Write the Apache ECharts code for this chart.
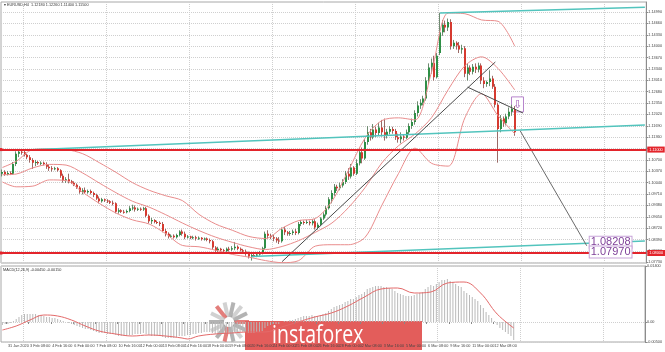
<!DOCTYPE html>
<html lang="en">
<head>
<meta charset="UTF-8">
<title>EURUSD H4</title>
<script src="https://cdn.jsdelivr.net/npm/echarts@6/dist/echarts.min.js"></script>
<style>
  html, body { margin: 0; padding: 0; background: #fff; }
  #chart { width: 665px; height: 352px; }
</style>
</head>
<body>
<div id="chart"></div>
<script>
// H4 bars, 30 Jan 2020 16:00 .. 13 Mar 2020 12:00 : [open, close, low, high]
const ohlc = [
  [1.1030,1.1035,1.1022,1.1042],[1.1035,1.1028,1.1024,1.1040],[1.1028,1.1032,1.1025,1.1038],[1.1032,1.1030,1.1026,1.1037],
  [1.1030,1.1058,1.1027,1.1064],[1.1058,1.1088,1.1052,1.1095],[1.1088,1.1094,1.1078,1.1098],[1.1094,1.1092,1.1085,1.1097],
  [1.1092,1.1085,1.1080,1.1096],[1.1085,1.1078,1.1072,1.1088],[1.1078,1.1070,1.1062,1.1084],[1.1070,1.1062,1.1044,1.1075],
  [1.1062,1.1064,1.1052,1.1070],[1.1064,1.1060,1.1056,1.1067],[1.1060,1.1062,1.1055,1.1066],[1.1062,1.1058,1.1054,1.1065],
  [1.1058,1.1050,1.1044,1.1063],[1.1050,1.1046,1.1038,1.1056],[1.1046,1.1044,1.1036,1.1052],[1.1044,1.1046,1.1040,1.1050],
  [1.1046,1.1040,1.1036,1.1049],[1.1040,1.1024,1.1018,1.1043],[1.1024,1.1010,1.1004,1.1030],[1.1010,1.1014,1.1003,1.1020],
  [1.1014,1.1008,1.1002,1.1030],[1.1008,1.1004,1.1000,1.1012],[1.1004,1.0998,1.0994,1.1008],[1.0998,1.0990,1.0986,1.1002],
  [1.0990,1.0978,1.0972,1.0994],[1.0978,1.0982,1.0970,1.0988],[1.0982,1.0976,1.0972,1.0990],[1.0976,1.0980,1.0972,1.0984],
  [1.0980,1.0974,1.0970,1.0984],[1.0974,1.0968,1.0962,1.0978],[1.0968,1.0958,1.0954,1.0972],[1.0958,1.0950,1.0944,1.0964],
  [1.0950,1.0956,1.0946,1.0960],[1.0956,1.0952,1.0948,1.0958],[1.0952,1.0950,1.0945,1.0956],[1.0950,1.0946,1.0942,1.0953],
  [1.0946,1.0944,1.0938,1.0952],[1.0944,1.0920,1.0915,1.0947],[1.0920,1.0924,1.0914,1.0930],[1.0924,1.0920,1.0916,1.0927],
  [1.0920,1.0918,1.0914,1.0925],[1.0918,1.0922,1.0915,1.0926],[1.0922,1.0930,1.0918,1.0936],[1.0930,1.0932,1.0924,1.0940],
  [1.0932,1.0926,1.0920,1.0938],[1.0926,1.0928,1.0922,1.0932],[1.0928,1.0926,1.0922,1.0932],[1.0926,1.0930,1.0922,1.0934],
  [1.0930,1.0908,1.0904,1.0934],[1.0908,1.0892,1.0886,1.0912],[1.0892,1.0896,1.0884,1.0902],[1.0896,1.0890,1.0886,1.0898],
  [1.0890,1.0888,1.0884,1.0894],[1.0888,1.0884,1.0878,1.0892],[1.0884,1.0864,1.0860,1.0890],[1.0864,1.0856,1.0848,1.0870],
  [1.0856,1.0848,1.0842,1.0860],[1.0848,1.0850,1.0844,1.0854],[1.0850,1.0846,1.0842,1.0854],[1.0846,1.0852,1.0842,1.0856],
  [1.0852,1.0862,1.0848,1.0866],[1.0862,1.0856,1.0850,1.0868],[1.0856,1.0846,1.0840,1.0862],[1.0846,1.0848,1.0842,1.0852],
  [1.0848,1.0844,1.0840,1.0850],[1.0844,1.0846,1.0840,1.0850],[1.0846,1.0842,1.0836,1.0850],[1.0842,1.0844,1.0838,1.0848],
  [1.0844,1.0840,1.0836,1.0846],[1.0840,1.0842,1.0836,1.0845],[1.0842,1.0838,1.0834,1.0845],[1.0838,1.0834,1.0828,1.0842],
  [1.0834,1.0816,1.0810,1.0838],[1.0816,1.0808,1.0802,1.0820],[1.0808,1.0812,1.0800,1.0818],[1.0812,1.0808,1.0804,1.0815],
  [1.0808,1.0806,1.0802,1.0812],[1.0806,1.0812,1.0802,1.0816],[1.0812,1.0810,1.0804,1.0818],[1.0810,1.0814,1.0806,1.0820],
  [1.0814,1.0818,1.0808,1.0832],[1.0818,1.0812,1.0808,1.0822],[1.0812,1.0808,1.0804,1.0816],[1.0808,1.0804,1.0800,1.0812],
  [1.0804,1.0798,1.0792,1.0810],[1.0798,1.0790,1.0784,1.0804],[1.0790,1.0794,1.0778,1.0798],[1.0794,1.0792,1.0788,1.0798],
  [1.0792,1.0796,1.0788,1.0800],[1.0796,1.0800,1.0792,1.0806],[1.0800,1.0814,1.0796,1.0818],[1.0814,1.0856,1.0810,1.0862],
  [1.0856,1.0850,1.0842,1.0866],[1.0850,1.0846,1.0840,1.0856],[1.0846,1.0842,1.0834,1.0852],[1.0842,1.0836,1.0830,1.0846],
  [1.0836,1.0834,1.0826,1.0846],[1.0834,1.0868,1.0830,1.0874],[1.0868,1.0860,1.0852,1.0876],[1.0860,1.0856,1.0850,1.0864],
  [1.0856,1.0858,1.0850,1.0864],[1.0858,1.0862,1.0852,1.0868],[1.0862,1.0858,1.0852,1.0870],[1.0858,1.0884,1.0854,1.0890],
  [1.0884,1.0890,1.0878,1.0896],[1.0890,1.0888,1.0882,1.0894],[1.0888,1.0890,1.0884,1.0896],[1.0890,1.0886,1.0880,1.0894],
  [1.0886,1.0892,1.0880,1.0898],[1.0892,1.0874,1.0868,1.0898],[1.0874,1.0882,1.0868,1.0888],[1.0882,1.0900,1.0878,1.0904],
  [1.0900,1.0912,1.0896,1.0918],[1.0912,1.0930,1.0906,1.0936],[1.0930,1.0956,1.0926,1.0962],[1.0956,1.0974,1.0944,1.0982],
  [1.0974,1.0992,1.0966,1.1000],[1.0992,1.0988,1.0980,1.0998],[1.0988,1.0996,1.0982,1.1004],[1.0996,1.1006,1.0990,1.1014],
  [1.1006,1.1030,1.1000,1.1038],[1.1030,1.1022,1.1012,1.1046],[1.1022,1.1048,1.1016,1.1058],[1.1048,1.1030,1.1024,1.1052],
  [1.1030,1.1060,1.1026,1.1072],[1.1060,1.1092,1.1054,1.1104],[1.1092,1.1074,1.1060,1.1106],[1.1074,1.1122,1.1070,1.1130],
  [1.1122,1.1150,1.1114,1.1168],[1.1150,1.1136,1.1126,1.1160],[1.1136,1.1158,1.1130,1.1174],[1.1158,1.1148,1.1136,1.1166],
  [1.1148,1.1164,1.1140,1.1178],[1.1164,1.1150,1.1138,1.1186],[1.1150,1.1140,1.1126,1.1190],[1.1140,1.1152,1.1132,1.1160],
  [1.1152,1.1160,1.1144,1.1168],[1.1160,1.1154,1.1146,1.1166],[1.1154,1.1136,1.1128,1.1160],[1.1136,1.1130,1.1120,1.1146],
  [1.1130,1.1138,1.1118,1.1150],[1.1138,1.1134,1.1126,1.1142],[1.1134,1.1150,1.1130,1.1158],[1.1150,1.1168,1.1144,1.1176],
  [1.1168,1.1180,1.1160,1.1190],[1.1180,1.1206,1.1172,1.1214],[1.1206,1.1228,1.1196,1.1240],[1.1228,1.1236,1.1218,1.1246],
  [1.1236,1.1248,1.1228,1.1256],[1.1248,1.1300,1.1242,1.1310],[1.1300,1.1338,1.1290,1.1350],[1.1338,1.1352,1.1320,1.1364],
  [1.1352,1.1310,1.1300,1.1372],[1.1310,1.1372,1.1306,1.1380],[1.1380,1.1440,1.1374,1.1496],[1.1440,1.1462,1.1430,1.1476],
  [1.1462,1.1454,1.1440,1.1474],[1.1454,1.1470,1.1444,1.1480],[1.1470,1.1400,1.1390,1.1478],[1.1400,1.1410,1.1392,1.1418],
  [1.1410,1.1402,1.1390,1.1414],[1.1402,1.1390,1.1380,1.1412],[1.1390,1.1394,1.1378,1.1404],[1.1394,1.1320,1.1310,1.1400],
  [1.1320,1.1338,1.1300,1.1348],[1.1338,1.1326,1.1316,1.1344],[1.1326,1.1340,1.1318,1.1348],[1.1340,1.1332,1.1322,1.1350],
  [1.1332,1.1344,1.1324,1.1352],[1.1344,1.1300,1.1290,1.1350],[1.1300,1.1290,1.1278,1.1310],[1.1290,1.1296,1.1282,1.1300],
  [1.1296,1.1306,1.1284,1.1330],[1.1306,1.1282,1.1276,1.1314],[1.1282,1.1230,1.1222,1.1290],[1.1230,1.1160,1.1062,1.1236],
  [1.1160,1.1190,1.1150,1.1200],[1.1190,1.1176,1.1166,1.1196],[1.1176,1.1196,1.1170,1.1204],[1.1196,1.1210,1.1188,1.1222],
  [1.1210,1.1218,1.1198,1.1230],[1.1218,1.1150,1.1140,1.1226]
];

// Bollinger bands (20, 2) read at every 6th bar
const bandIdx = [0,5,11,17,23,29,35,41,47,53,59,65,71,77,83,89,95,101,107,113,119,125,131,137,143,149,155,161,167,173,179,185];
const bandUpper = [1.1048,1.1066,1.1100,1.1102,1.1100,1.1088,1.1062,1.1034,1.1004,1.0982,1.0966,1.0952,1.0912,1.0884,1.0866,1.0848,
  1.0842,1.0872,1.0894,1.0900,1.0950,1.1040,1.1134,1.1184,1.1192,1.1186,1.1326,1.1496,1.1494,1.1476,1.1472,1.1400];
const bandMiddle = [1.1027,1.1029,1.1047,1.1057,1.1055,1.1032,1.1003,1.0975,1.0950,1.0933,1.0911,1.0887,1.0865,1.0846,1.0831,1.0818,
  1.0810,1.0819,1.0836,1.0860,1.0887,1.0932,1.0990,1.1061,1.1111,1.1145,1.1193,1.1274,1.1343,1.1369,1.1335,1.1273];
const bandLower = [1.1006,1.0992,1.0994,1.1012,1.1010,1.0976,1.0944,1.0916,1.0896,1.0884,1.0856,1.0822,1.0818,1.0808,1.0796,1.0788,
  1.0778,1.0772,1.0778,1.0820,1.0824,1.0824,1.0846,1.0938,1.1030,1.1104,1.1060,1.1052,1.1192,1.1262,1.1198,1.1146];

// MACD (12,26,9): main line as histogram, one value per bar
const macdHist = [
  -0.00075,-0.0005,-0.0005,-0.00025,0.00025,0.00075,0.00125,0.00175,0.002,0.002,0.002,0.002,0.002,0.00175,0.00175,0.0015,
  0.00125,0.00125,0.001,0.001,0.00075,0.0005,0.00025,0,-0.00025,-0.0005,-0.00075,-0.001,-0.00125,-0.0015,-0.00175,-0.00175,
  -0.002,-0.00225,-0.0025,-0.00275,-0.00275,-0.00275,-0.003,-0.003,-0.003,-0.00325,-0.0035,-0.0035,-0.0035,-0.0035,-0.00325,-0.00325,
  -0.003,-0.003,-0.003,-0.00275,-0.003,-0.00325,-0.0035,-0.0035,-0.0035,-0.0035,-0.00375,-0.004,-0.004,-0.004,-0.004,-0.00375,
  -0.0035,-0.0035,-0.0035,-0.00325,-0.00325,-0.003,-0.003,-0.00275,-0.00275,-0.0025,-0.0025,-0.0025,-0.00275,-0.003,-0.003,-0.003,
  -0.003,-0.003,-0.00275,-0.00275,-0.0025,-0.0025,-0.0025,-0.0025,-0.0025,-0.00275,-0.00275,-0.00275,-0.0025,-0.0025,-0.00225,-0.0015,
  -0.001,-0.00075,-0.0005,-0.0005,-0.0005,0,0.00025,0.00025,0.0005,0.0005,0.00075,0.001,0.00125,0.0015,0.0015,0.0015,
  0.00175,0.0015,0.0015,0.00175,0.002,0.00225,0.00275,0.00325,0.00375,0.004,0.00425,0.0045,0.005,0.00525,0.00575,0.00575,
  0.00625,0.00675,0.007,0.0075,0.00825,0.0085,0.00875,0.009,0.009,0.009,0.00875,0.00875,0.0085,0.00825,0.00775,0.00725,
  0.007,0.00675,0.0065,0.0065,0.0065,0.00675,0.007,0.00725,0.0075,0.00825,0.00875,0.00925,0.009,0.0095,0.01,0.0105,
  0.0105,0.01075,0.01025,0.01,0.0095,0.009,0.00875,0.00775,0.00725,0.00675,0.00625,0.00575,0.00525,0.00425,0.0035,0.0025,
  0.00175,0.001,0.00025,-0.00075,-0.0015,-0.002,-0.0025,-0.003,-0.0035,-0.0045
];
// MACD signal line read at sample bars
const signalIdx = [0,5,10,15,20,25,30,35,41,47,53,59,65,67,71,77,83,89,95,101,107,113,119,125,131,137,143,149,155,161,167,173,179,185];
const signalVal = [-0.002,-0.001,0.0005,0.00175,0.0015,0.0005,-0.001,-0.00225,-0.003,-0.0035,-0.00325,-0.0035,-0.004,-0.00425,-0.0035,-0.003,
  -0.00275,-0.0025,-0.0025,-0.00125,0,0.00125,0.00225,0.004,0.00625,0.00825,0.0085,0.00725,0.0075,0.00975,0.01,0.00725,0.002,-0.0015];

// drawn objects: [bar index, price]
const channelTop = [[158, 1.1496], [232, 1.1513]];
const channelMid = [[6, 1.1098], [232, 1.1171]];
const channelLow = [[90, 1.0790], [232, 1.0835]];
const trendUp = [[101, 1.0775], [178, 1.1354]];
const trendDown = [[168, 1.1281], [188, 1.1206]];
const projection = [[187, 1.1154], [211, 1.0821]];
const levels = [1.1063, 1.0797];
const noteLabels = ['1.08208', '1.07970'];
const noteAnchors = [[211, 1.0821], [211, 1.0797]];
const arrowAnchor = [186, 1.1231];

// axis labels
const priceTicks = [1.1499,1.1466,1.1433,1.1400,1.1367,1.1334,1.1301,1.1268,1.1235,1.1202,1.1169,1.1136,1.1103,1.1070,1.1037,1.1004,
  1.0971,1.0938,1.0905,1.0872,1.0839,1.0806,1.0773];
const macdTicks = [0.014, 0, -0.005];
const timeLabels = ['31 Jan 2020','3 Feb 08:00','4 Feb 16:00','6 Feb 00:00','7 Feb 08:00','10 Feb 16:00','12 Feb 00:00','13 Feb 08:00',
  '14 Feb 16:00','18 Feb 00:00','19 Feb 08:00','20 Feb 16:00','24 Feb 00:00','25 Feb 08:00','26 Feb 16:00','28 Feb 00:00',
  '2 Mar 08:00','3 Mar 16:00','5 Mar 00:00','6 Mar 08:00','9 Mar 16:00','11 Mar 00:00','12 Mar 08:00'];

const SLOTS = 233;
const slots = Array.from({ length: SLOTS }, (_, i) => String(i));
const tiny = 'Liberation Sans, DejaVu Sans, sans-serif';
const last = ohlc[ohlc.length - 1];

const labelAt = (i) => i >= 2 && (i - 2) % 8 === 0 && (i - 2) / 8 < timeLabels.length;
const weekLine = (i) => i >= 8 && (i - 8) % 30 === 0;

function renderCandle(params, api) {
  const i = api.value(0);
  const o = api.value(1), c = api.value(2), lo = api.value(3), hi = api.value(4);
  const pO = api.coord([i, o]);
  const pC = api.coord([i, c]);
  const pL = api.coord([i, lo]);
  const pH = api.coord([i, hi]);
  const x = Math.round(pO[0]);
  const top = Math.min(pO[1], pC[1]);
  const h = Math.max(Math.abs(pO[1] - pC[1]), 1);
  const up = c >= o;
  return {
    type: 'group',
    children: [
      { type: 'line', shape: { x1: x - 0.5, y1: pH[1], x2: x - 0.5, y2: pL[1] }, style: { stroke: up ? '#6e8a70' : '#9a6a66', lineWidth: 1 } },
      { type: 'rect', shape: { x: x - 1, y: top, width: 2, height: h }, style: { fill: up ? '#2f8f46' : '#d63a30' } }
    ]
  };
}

function objLine(data, color, width) {
  return {
    type: 'line', data: data, xAxisIndex: 0, yAxisIndex: 0, showSymbol: false, silent: true,
    lineStyle: { color: color, width: width }, z: 4
  };
}

function bandLine(values) {
  return {
    type: 'line', xAxisIndex: 0, yAxisIndex: 0, showSymbol: false, silent: true, smooth: 0.3,
    data: bandIdx.map((b, k) => [b, values[k]]),
    lineStyle: { color: '#e98c8c', width: 1 }, z: 3
  };
}

const gridLine = { show: true, lineStyle: { color: '#cfcfcf', type: 'dotted', width: 1 } };

const chart = echarts.init(document.getElementById('chart'));
chart.setOption({
  animation: false,
  backgroundColor: '#ffffff',
  grid: [
    { left: 1, right: 16, top: 2, height: 261, show: true, borderColor: '#a8a8a8', borderWidth: 1 },
    { left: 1, right: 16, top: 266, height: 76, show: true, borderColor: '#a8a8a8', borderWidth: 1 }
  ],
  xAxis: [
    { type: 'category', gridIndex: 0, data: slots, boundaryGap: true,
      axisLine: { show: false }, axisTick: { show: false }, axisLabel: { show: false },
      splitLine: Object.assign({ interval: weekLine }, gridLine) },
    { type: 'category', gridIndex: 1, data: slots, boundaryGap: true,
      axisLine: { show: false },
      axisTick: { show: true, interval: labelAt, length: 2, lineStyle: { color: '#888' } },
      axisLabel: { show: true, interval: labelAt, fontSize: 3.8, color: '#444', fontFamily: tiny, margin: 2, align: 'left',
        formatter: (v, i) => timeLabels[(i - 2) / 8] || '' },
      splitLine: Object.assign({ interval: weekLine }, gridLine) }
  ],
  yAxis: [
    { type: 'value', gridIndex: 0, position: 'right', min: 1.0771, max: 1.1528,
      axisLine: { show: true, lineStyle: { color: '#8c8c8c' } },
      axisTick: { show: true, length: 2, customValues: priceTicks, lineStyle: { color: '#8c8c8c' } },
      axisLabel: { customValues: priceTicks, fontSize: 3.8, color: '#444', fontFamily: tiny, margin: 2,
        formatter: (v) => v.toFixed(5) },
      splitLine: gridLine },
    { type: 'value', gridIndex: 1, position: 'right', min: -0.005, max: 0.014,
      axisLine: { show: true, lineStyle: { color: '#8c8c8c' } },
      axisTick: { show: true, length: 2, customValues: macdTicks, lineStyle: { color: '#8c8c8c' } },
      axisLabel: { customValues: macdTicks, fontSize: 3.8, color: '#444', fontFamily: tiny, margin: 2,
        formatter: (v) => (v === 0 ? '0.00' : v.toFixed(5)) },
      splitLine: gridLine }
  ],
  series: [
    { type: 'custom', xAxisIndex: 0, yAxisIndex: 0, silent: true, z: 2,
      data: ohlc.map((r, i) => [i, r[0], r[1], r[2], r[3]]),
      encode: { x: 0, y: [1, 2, 3, 4] },
      renderItem: renderCandle },
    bandLine(bandUpper),
    Object.assign(bandLine(bandMiddle), {
      markLine: {
        silent: true, symbol: ['rect', 'none'], symbolSize: 3, animation: false,
        lineStyle: { color: '#e3242b', width: 2, type: 'solid' },
        label: { show: true, position: 'end', distance: 1, color: '#fff', backgroundColor: '#e3242b',
          padding: [1, 2], fontSize: 3.8, fontFamily: tiny, formatter: (p) => p.value.toFixed(5) },
        data: [
          { yAxis: levels[0] },
          { yAxis: levels[1] },
          { yAxis: last[1], symbol: 'none', lineStyle: { opacity: 0 },
            label: { backgroundColor: '#3a3a3a' } }
        ]
      }
    }),
    bandLine(bandLower),
    objLine(channelTop, '#52c4bd', 1.5),
    objLine(channelMid, '#52c4bd', 1.5),
    objLine(channelLow, '#52c4bd', 1.5),
    objLine(trendUp, '#4a4a4a', 1),
    objLine(trendDown, '#4a4a4a', 1),
    objLine(projection, '#6a6a6a', 1),
    { type: 'bar', xAxisIndex: 1, yAxisIndex: 1, data: macdHist, barWidth: 1, silent: true,
      itemStyle: { color: '#b9b9b9' } },
    { type: 'line', xAxisIndex: 1, yAxisIndex: 1, showSymbol: false, silent: true, smooth: 0.4,
      data: signalIdx.map((b, k) => [b, signalVal[k]]),
      lineStyle: { color: '#e46a6a', width: 1 } }
  ]
});

// annotations placed from data coordinates
const toPx = (v) => chart.convertToPixel({ xAxisIndex: 0, yAxisIndex: 0 }, v);
const graphics = [];

graphics.push({
  type: 'text', left: 4, top: 3, z: 50,
  style: { text: '\u25BE EURUSD,H4  ' + [last[0], last[3], last[2], last[1]].map((v) => v.toFixed(5)).join(' '),
    fill: '#333', fontSize: 3.8, fontFamily: tiny }
});
graphics.push({
  type: 'text', left: 3, top: 268, z: 50,
  style: { text: 'MACD(12,26,9) ' + macdHist[macdHist.length - 1].toFixed(5) + ' ' + signalVal[signalVal.length - 1].toFixed(5),
    fill: '#333', fontSize: 3.8, fontFamily: tiny }
});

noteLabels.forEach((t, k) => {
  const p = toPx(noteAnchors[k]);
  graphics.push({
    type: 'text', x: p[0] + 3, y: p[1] + (k === 0 ? -3.5 : -2), z: 60 + k,
    style: { text: t, fill: '#7e3f98', fontSize: 11, fontFamily: 'Liberation Sans', verticalAlign: 'middle',
      backgroundColor: '#ffffff', borderColor: '#c7a3d8', borderWidth: 1, padding: [0, 1] }
  });
});

const ap = toPx(arrowAnchor);
graphics.push({
  type: 'group', x: ap[0], y: ap[1], z: 60,
  children: [
    { type: 'rect', shape: { x: -6, y: -7.5, width: 12, height: 15 }, style: { fill: '#fff', stroke: '#b784cc', lineWidth: 1 } },
    { type: 'text', style: { text: '\u21E9', x: 0, y: 0.5, fill: '#a05ab8', fontSize: 11, fontFamily: 'DejaVu Sans',
      align: 'center', verticalAlign: 'middle' } }
  ]
});

// instaforex watermark
const orb = [];
for (let k = 0; k < 14; k++) {
  orb.push({
    type: 'rect', rotation: k * Math.PI / 7, shape: { x: 5, y: -2, width: 15, height: 4 },
    style: { fill: k % 5 === 0 ? '#d9534f' : (k % 2 ? '#9a9a9a' : '#c2c2c2'), opacity: 0.75 }
  });
}
graphics.push({ type: 'group', x: 229, y: 322, z: 90, children: orb });
graphics.push({
  type: 'group', z: 100,
  children: [
    { type: 'rect', shape: { x: 245, y: 321, width: 177, height: 29 }, style: { fill: '#e35d5b' } },
    { type: 'text', x: 272, y: 336, scaleX: 0.78,
      style: { text: 'instaforex', fill: '#ffffff', fontSize: 25, fontFamily: 'Open Sans', verticalAlign: 'middle' } }
  ]
});

chart.setOption({ graphic: graphics });
</script>
</body>
</html>
